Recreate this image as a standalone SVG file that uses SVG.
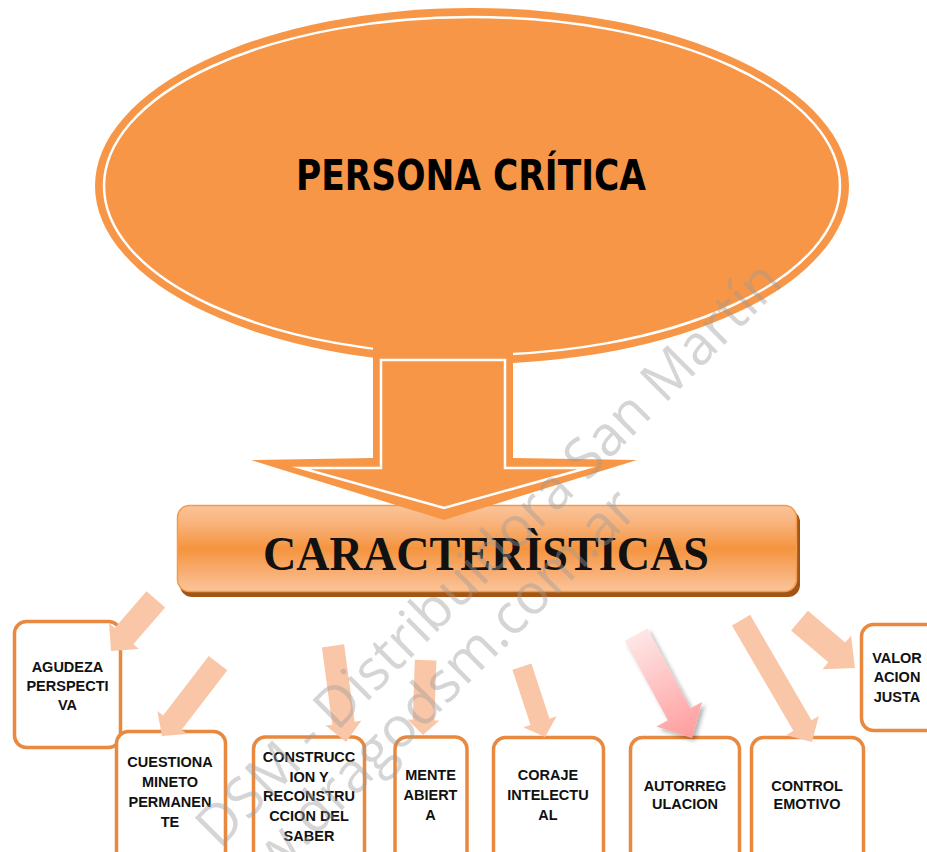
<svg xmlns="http://www.w3.org/2000/svg" width="927" height="852" viewBox="0 0 927 852">
<defs>
<style>
.box{fill:#fff;stroke:#E8893F;stroke-width:3.5}
.t{font-family:"Liberation Sans",Arial,sans-serif;font-weight:bold;font-size:14.5px;fill:#111;text-anchor:middle}
.pale{fill:#FAC6A8}
.wm{font-family:"Open Sans","Liberation Sans",sans-serif;font-size:56px;fill:#9a9a9a;fill-opacity:0.42}
</style>
<linearGradient id="bar" x1="0" y1="0" x2="0" y2="1">
<stop offset="0" stop-color="#FAC49A"/>
<stop offset="0.22" stop-color="#F8B27A"/>
<stop offset="0.5" stop-color="#F5943E"/>
<stop offset="0.78" stop-color="#F8AE74"/>
<stop offset="1" stop-color="#FAC49A"/>
</linearGradient>
<linearGradient id="pink" x1="0" y1="0" x2="1" y2="0">
<stop offset="0" stop-color="#FFE6E6"/>
<stop offset="1" stop-color="#FF9C9C"/>
</linearGradient>
<filter id="sh" x="-20%" y="-20%" width="150%" height="150%">
<feDropShadow dx="3" dy="3" stdDeviation="2" flood-color="#000" flood-opacity="0.3"/>
</filter>
</defs>

<g id="persona">
<ellipse cx="472" cy="186" rx="377" ry="178" fill="#F79646"/>
<ellipse cx="472" cy="186" rx="368" ry="169" fill="none" stroke="#fff" stroke-width="2.5"/>
<text x="471" y="190" font-family="'DejaVu Sans',sans-serif" font-weight="bold" font-size="43.5" fill="#000" text-anchor="middle" textLength="350" lengthAdjust="spacingAndGlyphs">PERSONA CRÍTICA</text>
</g>

<g id="caracteristicas">
<rect x="180" y="510" width="620" height="87" rx="12" fill="#A15516"/>
<rect x="177.5" y="505.5" width="619" height="86" rx="12" fill="url(#bar)" stroke="#F39A4C" stroke-width="1.5"/>
<text x="486" y="570" font-family="'Liberation Serif',serif" font-weight="bold" font-size="48" fill="#111" text-anchor="middle" textLength="446" lengthAdjust="spacingAndGlyphs">CARACTERÌSTICAS</text>
</g>

<g id="main-arrow">
<polygon points="373,345 373,458 251,460 444,520 637,460 513,458 513,345" fill="#F79646"/>
<polygon points="381,360 381,468 301,468 444,508 587,468 505,468 505,360" fill="none" stroke="#fff" stroke-width="2.5" stroke-miterlimit="10"/>
</g>

<g id="n-agudeza"><rect class="box" x="14.5" y="621.5" width="106" height="126" rx="12"/>
<text class="t" x="67.5" y="672">AGUDEZA</text><text class="t" x="67.5" y="691">PERSPECTI</text><text class="t" x="67.5" y="710">VA</text></g>

<g id="n-cuestionamiento"><rect class="box" x="116.5" y="731.5" width="109" height="140" rx="12"/>
<text class="t" x="170" y="767">CUESTIONA</text><text class="t" x="170" y="787">MINETO</text><text class="t" x="170" y="807">PERMANEN</text><text class="t" x="170" y="827">TE</text></g>

<g id="n-construccion"><rect class="box" x="253.5" y="737" width="111" height="140" rx="12"/>
<text class="t" x="309" y="762">CONSTRUCC</text><text class="t" x="309" y="781.5">ION Y</text><text class="t" x="309" y="801">RECONSTRU</text><text class="t" x="309" y="821">CCION DEL</text><text class="t" x="309" y="840.5">SABER</text></g>

<g id="n-mente"><rect class="box" x="395" y="737" width="72" height="140" rx="12"/>
<text class="t" x="430.5" y="780">MENTE</text><text class="t" x="430.5" y="800">ABIERT</text><text class="t" x="430.5" y="820">A</text></g>

<g id="n-coraje"><rect class="box" x="493.5" y="737.5" width="110" height="140" rx="12"/>
<text class="t" x="548" y="780">CORAJE</text><text class="t" x="548" y="800">INTELECTU</text><text class="t" x="548" y="820">AL</text></g>

<g id="n-autorregulacion"><rect class="box" x="630.5" y="737.5" width="109" height="140" rx="12"/>
<text class="t" x="685" y="791">AUTORREG</text><text class="t" x="685" y="809">ULACION</text></g>

<g id="n-control"><rect class="box" x="751.5" y="737.5" width="112" height="140" rx="12"/>
<text class="t" x="807" y="791">CONTROL</text><text class="t" x="807" y="809">EMOTIVO</text></g>

<g id="n-valoracion"><rect class="box" x="861.5" y="624.5" width="80" height="106" rx="12"/>
<text class="t" x="897" y="662.5">VALOR</text><text class="t" x="897" y="682">ACION</text><text class="t" x="897" y="702">JUSTA</text></g>

<g id="connectors">
<path class="pale" transform="translate(111,651) rotate(131)" d="M0,0 L-19.8,-19.8 L-19.8,-12.4 L-68.3,-12.4 L-68.3,12.4 L-19.8,12.4 L-19.8,19.8 Z"/>
<path class="pale" transform="translate(162,736) rotate(127.5)" d="M0,0 L-17,-19 L-17,-11.7 L-92,-11.7 L-92,11.7 L-17,11.7 L-17,19 Z"/>
<path class="pale" transform="translate(346,742) rotate(82.3)" d="M0,0 L-19,-18 L-19,-11.2 L-97,-11.2 L-97,11.2 L-19,11.2 L-19,18 Z"/>
<path class="pale" transform="translate(423,735) rotate(92)" d="M0,0 L-15,-16 L-15,-10.8 L-75,-10.8 L-75,10.8 L-15,10.8 L-15,16 Z"/>
<path class="pale" transform="translate(545,737) rotate(71.8)" d="M0,0 L-16,-17.5 L-16,-10 L-74,-10 L-74,10 L-16,10 L-16,17.5 Z"/>
<g filter="url(#sh)"><path fill="url(#pink)" transform="translate(692,738) rotate(61.6)" d="M0,0 L-27,-26 L-27,-12.8 L-117.5,-12.8 L-117.5,12.8 L-27,12.8 L-27,26 Z"/></g>
<path class="pale" transform="translate(812,742) rotate(59.8)" d="M0,0 L-19,-19 L-19,-10.5 L-141,-10.5 L-141,10.5 L-19,10.5 L-19,19 Z"/>
<path class="pale" transform="translate(855,668) rotate(40.5)" d="M0,0 L-24,-22 L-24,-13 L-73,-13 L-73,13 L-24,13 L-24,22 Z"/>
</g>

<g id="watermark">
<text class="wm" x="502" y="567" text-anchor="middle" textLength="800" lengthAdjust="spacingAndGlyphs" transform="rotate(-45 502 567)">DSM - Distribuidora San Martín</text>
<text class="wm" x="640" y="512" text-anchor="end" transform="rotate(-45 640 512)">www.dragodsm.com.ar</text>
</g>
</svg>
